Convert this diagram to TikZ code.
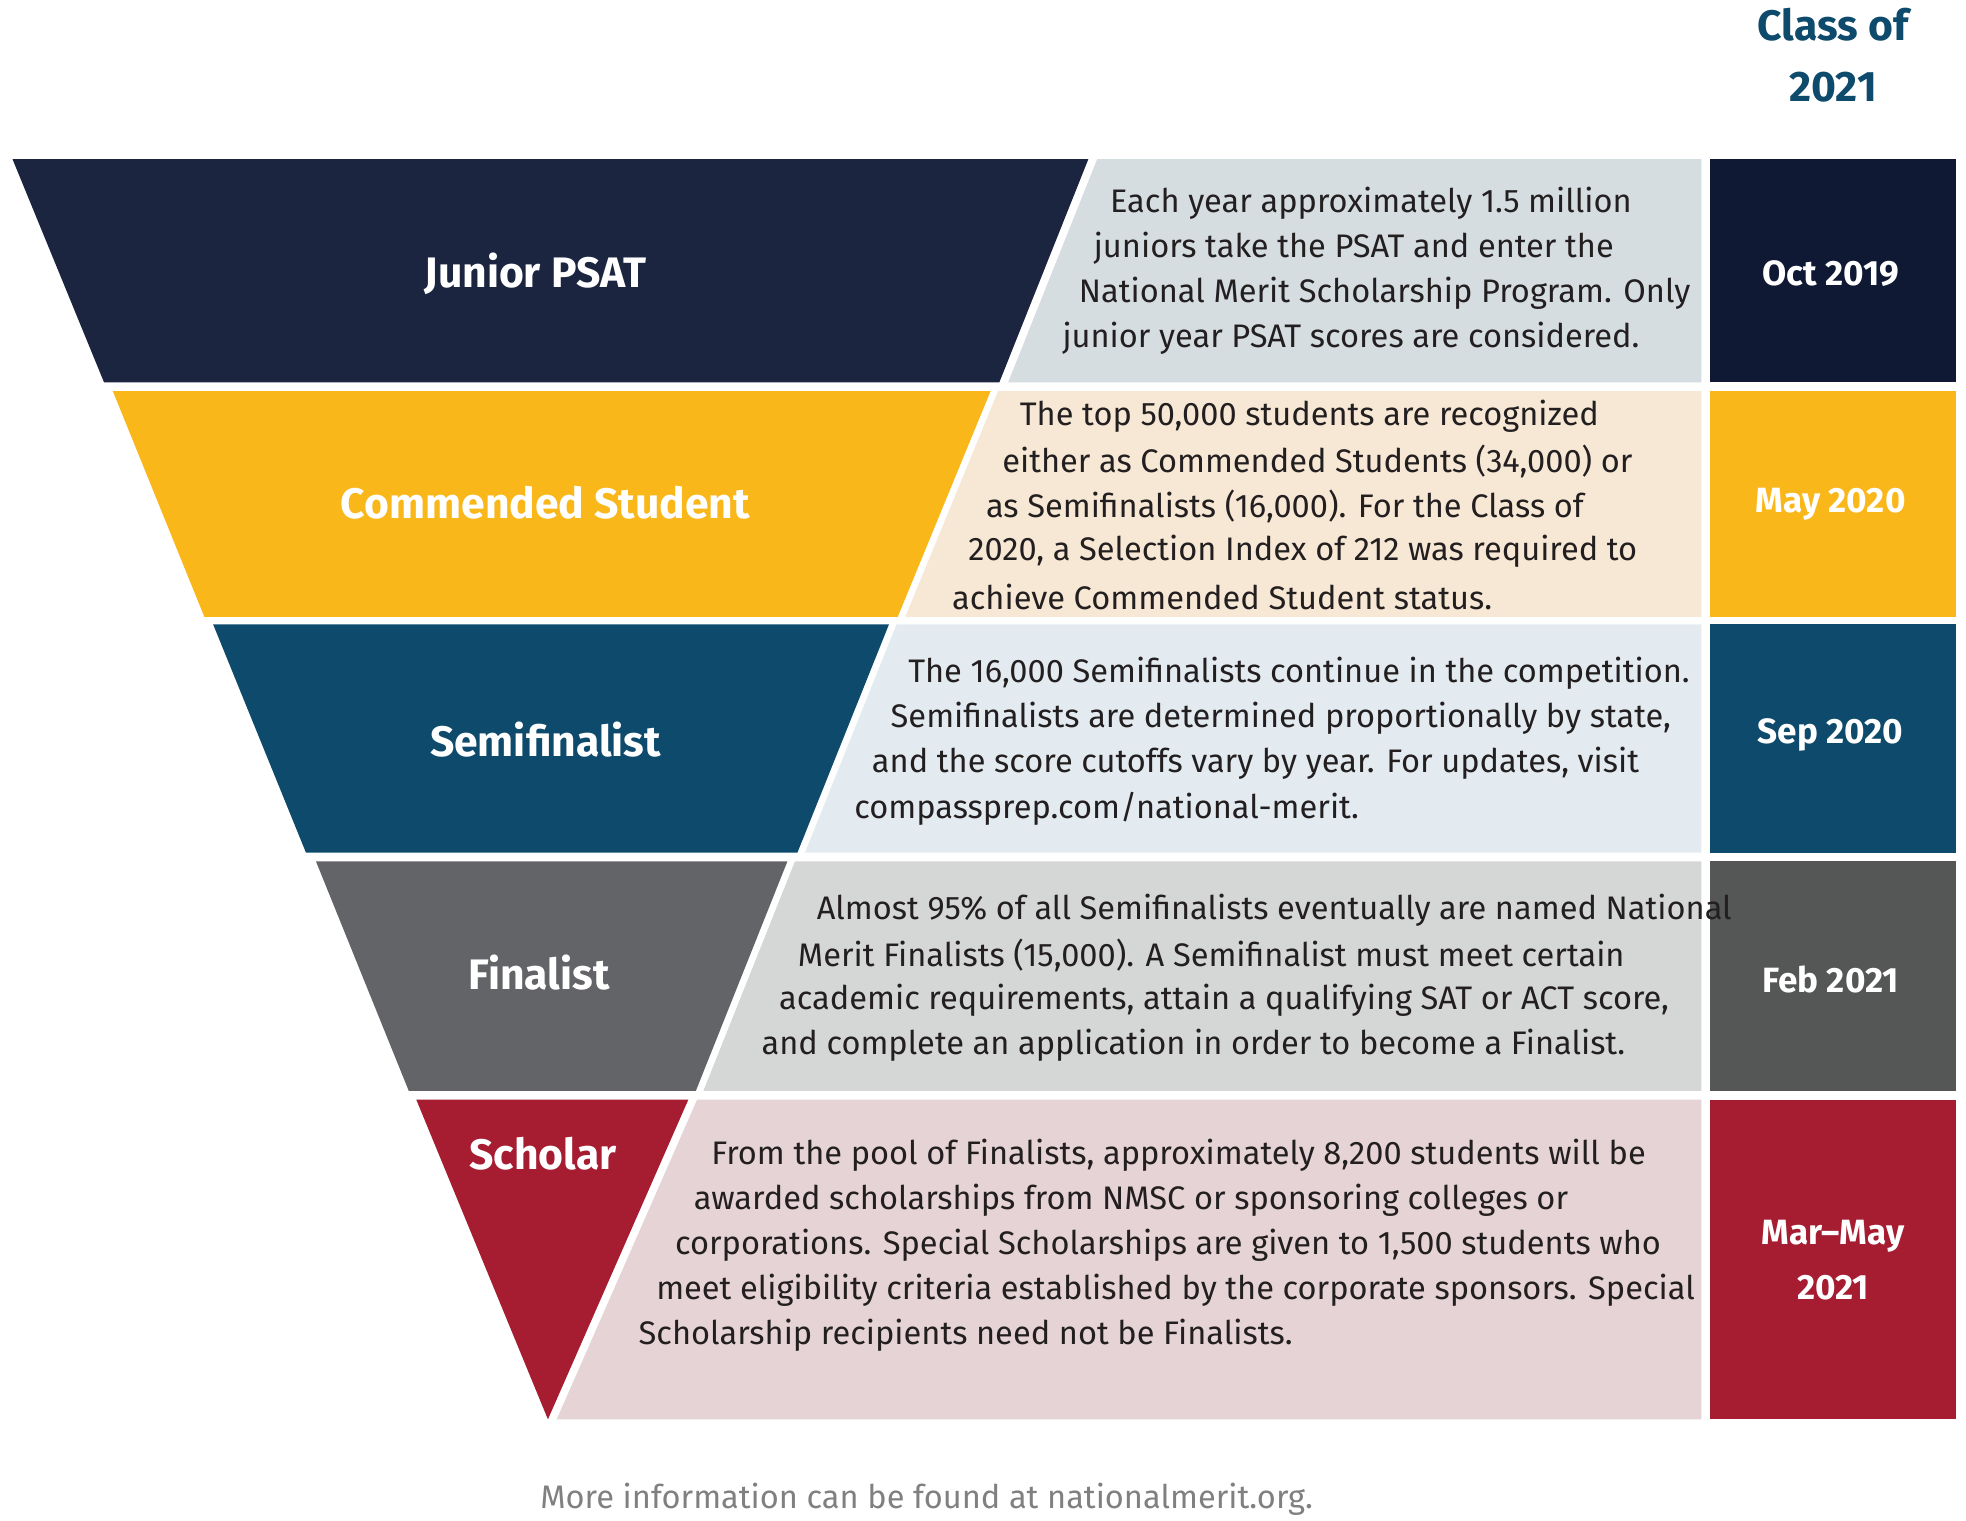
\documentclass[tikz,border=0pt]{standalone}
\usepackage{fontspec}
\setmainfont{Fira Sans}
\definecolor{navy}{HTML}{1B2540}
\definecolor{navyd}{HTML}{0F1934}
\definecolor{yel}{HTML}{F9B71A}
\definecolor{beige}{HTML}{F6E8D4}
\definecolor{teal}{HTML}{0D4A6B}
\definecolor{lblue}{HTML}{E3EBF0}
\definecolor{gblue}{HTML}{D5DDE1}
\definecolor{gry}{HTML}{636467}
\definecolor{lgry}{HTML}{D5D7D7}
\definecolor{dgry}{HTML}{555656}
\definecolor{red}{HTML}{A61C30}
\definecolor{pink}{HTML}{E5D3D6}
\definecolor{txt}{HTML}{231F20}
\tikzset{
 body/.style={anchor=west,inner sep=0pt,font=\fontsize{13}{15}\selectfont,text=txt},
 ttl/.style={inner sep=0pt,font=\fontsize{17}{20}\selectfont\bfseries,text=white},
 dt/.style={inner sep=0pt,font=\fontsize{14}{20}\selectfont\bfseries,text=white,align=center},
}
\begin{document}
\begin{tikzpicture}[x=0.5pt,y=-0.5pt]
\useasboundingbox (0,0) rectangle (1568,1213);
% row 1
\fill[navy] (10,127)--(868,127)--(797,305)--(83,305)--cycle;
\fill[gblue] (875,127)--(1357,127)--(1357,305)--(804,305)--cycle;
\fill[navyd] (1364,127) rectangle (1560,305);
% row 2
\fill[yel] (90,312)--(790,312)--(716,492)--(163,492)--cycle;
\fill[beige] (796,312)--(1357,312)--(1357,492)--(722,492)--cycle;
\fill[yel] (1364,312) rectangle (1560,492);
% row 3
\fill[teal] (170,498)--(709,498)--(636,680)--(244,680)--cycle;
\fill[lblue] (715,498)--(1357,498)--(1357,680)--(642,680)--cycle;
\fill[teal] (1364,498) rectangle (1560,680);
% row 4
\fill[gry] (252,687)--(628,687)--(555,870)--(326,870)--cycle;
\fill[lgry] (634,687)--(1357,687)--(1357,870)--(561,870)--cycle;
\fill[dgry] (1364,687) rectangle (1560,870);
% row 5
\fill[red] (332,877)--(549,877)--(437,1132)--cycle;
\fill[pink] (556,877)--(1357,877)--(1357,1132)--(444,1132)--cycle;
\fill[red] (1364,877) rectangle (1560,1132);
% titles
\node[ttl] (t1) at (427,218) {Junior PSAT};
\node[ttl] (t2) at (435,401) {Commended Student};
\node[ttl] (t3) at (435,590) {Semifinalist};
\node[ttl] (t4) at (430,776) {Finalist};
\node[ttl] (t5) at (433,920) {Scholar};
% dates
\node[dt] (d1) at (1460,218) {Oct 2019};
\node[dt] (d2) at (1460,402) {May 2020};
\node[dt] (d3) at (1460,586) {Sep 2020};
\node[dt] (d4) at (1460,781) {Feb 2021};
\node[dt] (d5) at (1462,1005) {Mar–May\\[2pt]2021};
\node[inner sep=0pt,font=\fontsize{17}{24}\selectfont\bfseries,text=teal,align=center] (cls) at (1462,44) {Class of\\2021};
% body text
\node[body] (a1) at (885,162) {Each year approximately 1.5 million};
\node[body] (a2) at (872,198) {juniors take the PSAT and enter the};
\node[body] (a3) at (860,234) {National Merit Scholarship Program. Only};
\node[body] (a4) at (847,270) {junior year PSAT scores are considered.};
\node[body] (b1) at (813,332) {The top 50,000 students are recognized};
\node[body] (b2) at (799,368) {either as Commended Students (34,000) or};
\node[body] (b3) at (786,404) {as Semifinalists (16,000). For the Class of};
\node[body] (b4) at (772,440) {2020, a Selection Index of 212 was required to};
\node[body] (b5) at (759,476) {achieve Commended Student status.};
\node[body] (c1) at (724,537) {The 16,000 Semifinalists continue in the competition.};
\node[body] (c2) at (710,573) {Semifinalists are determined proportionally by state,};
\node[body] (c3) at (695,609) {and the score cutoffs vary by year. For updates, visit};
\node[body] (c4) at (681,645) {compassprep.com/national-merit.};
\node[body] (e1) at (651,726) {Almost 95\% of all Semifinalists eventually are named National};
\node[body] (e2) at (636,762) {Merit Finalists (15,000). A Semifinalist must meet certain};
\node[body] (e3) at (621,798) {academic requirements, attain a qualifying SAT or ACT score,};
\node[body] (e4) at (607,834) {and complete an application in order to become a Finalist.};
\node[body] (f1) at (567,921) {From the pool of Finalists, approximately 8,200 students will be};
\node[body] (f2) at (553,957) {awarded scholarships from NMSC or sponsoring colleges or};
\node[body] (f3) at (538,993) {corporations. Special Scholarships are given to 1,500 students who};
\node[body] (f4) at (523,1029) {meet eligibility criteria established by the corporate sponsors. Special};
\node[body] (f5) at (509,1065) {Scholarship recipients need not be Finalists.};
\node[inner sep=0pt,font=\fontsize{13}{15}\selectfont,text=gray] (foot) at (739,1196) {More information can be found at nationalmerit.org.};
\end{tikzpicture}
\end{document}
